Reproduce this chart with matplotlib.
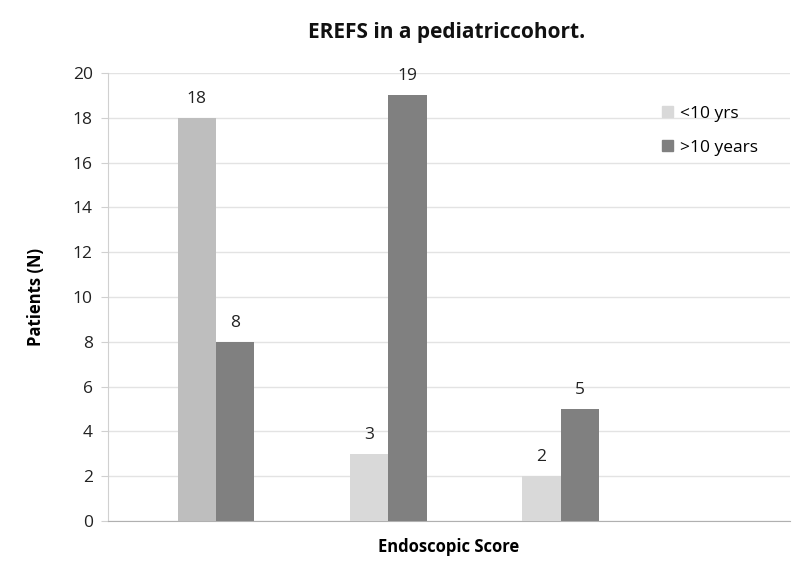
import matplotlib
matplotlib.use("Agg")
import matplotlib.pyplot as plt
import numpy as np
from matplotlib.patches import Patch

categories = ["1", "2", "3", ""]
under10 = [18, 3, 2]
over10 = [8, 19, 5]
series_names = ["<10 yrs", ">10 years"]
yticks = [0, 2, 4, 6, 8, 10, 12, 14, 16, 18, 20]

plt.rcParams['font.family'] = ['Open Sans', 'DejaVu Sans']

fig = plt.figure(figsize=(7.94, 5.62), dpi=100)
ax = fig.add_axes([0.136, 0.073, 0.859, 0.797])

x = np.arange(len(under10))
w = 0.222
light_cols = ["#BEBEBE", "#D9D9D9", "#D9D9D9"]
b1 = ax.bar(x - w/2, under10, w, color=light_cols, label=series_names[0], zorder=3)
b2 = ax.bar(x + w/2, over10, w, color="#808080", label=series_names[1], zorder=3)
for bars, vals in ((b1, under10), (b2, over10)):
    for r, v in zip(bars, vals):
        ax.text(r.get_x() + r.get_width()/2, v + 0.5, str(v), ha='center', va='bottom',
                fontsize=12.5, color='#222222')

ax.set_xlim(-0.626, 3.33)
ax.set_ylim(0, 20)
ax.set_yticks(yticks)
ax.set_xticks([])
ax.yaxis.grid(True, color='#E3E3E3', linewidth=1, zorder=0)
for s in ['top', 'right']:
    ax.spines[s].set_visible(False)
ax.spines['left'].set_color('#D0D0D0')
ax.spines['bottom'].set_color('#B0B0B0')
ax.tick_params(axis='y', length=5, color='#D0D0D0', labelsize=12.5, labelcolor='#222222', pad=6)

ax.set_ylabel("Patients (N)", fontsize=12, fontweight='bold', labelpad=20)
ax.set_xlabel("Endoscopic Score", fontsize=12, fontweight='bold', labelpad=12)
fig.text(0.563, 0.943, "EREFS in a pediatriccohort.", ha='center', va='center',
         fontsize=15, fontweight='bold', color='#111111')

handles = [Patch(color="#D9D9D9"), Patch(color="#808080")]
leg = ax.legend(handles, series_names, loc='upper left', bbox_to_anchor=(0.79, 0.962),
                frameon=False, fontsize=12.5, handlelength=0.6, handleheight=0.6,
                handletextpad=0.4, labelspacing=1.05)

fig.savefig("out.png", dpi=100)
